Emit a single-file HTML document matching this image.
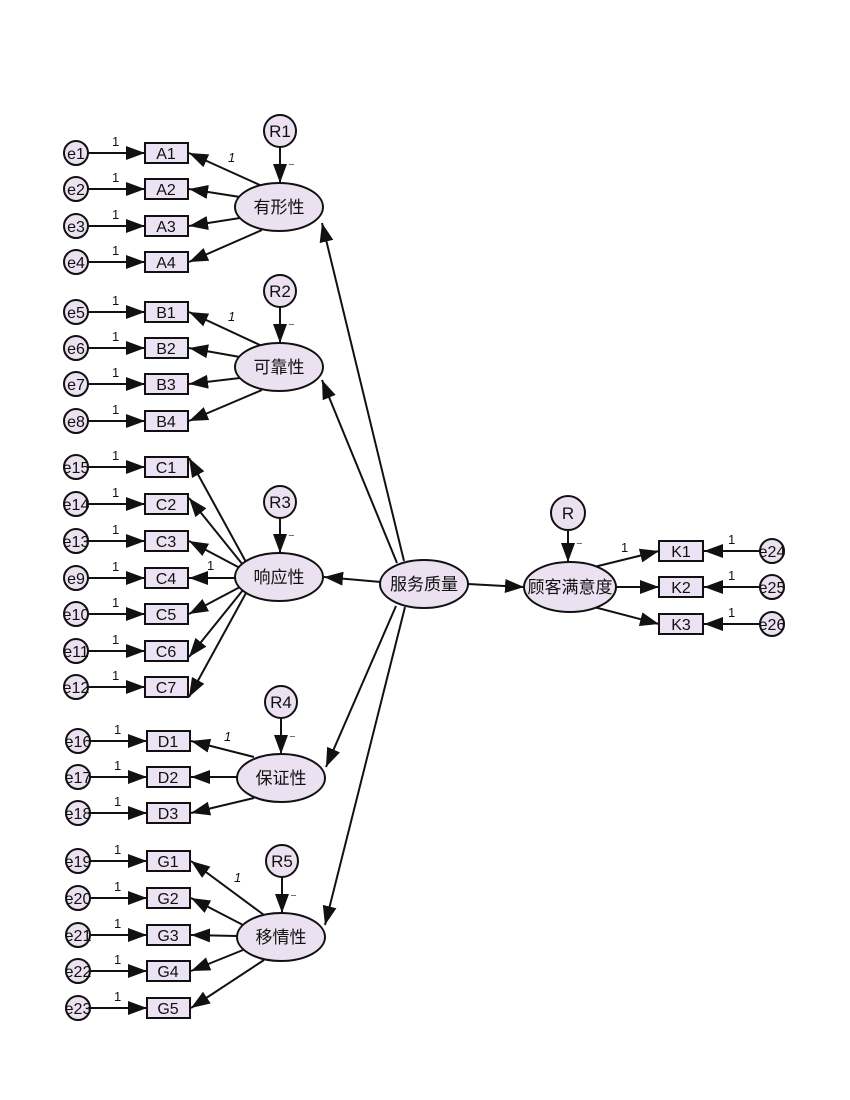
<!DOCTYPE html>
<html><head><meta charset="utf-8"><style>
html,body{margin:0;padding:0;background:#fff}
svg{display:block}
text{font-family:"Liberation Sans","Noto Sans CJK SC",sans-serif;fill:#111}
.b{fill:#ebe3f3;stroke:#111;stroke-width:2}
.e{fill:#ebe1f1;stroke:#111;stroke-width:2}
.l{stroke:#111;stroke-width:2;fill:none;marker-end:url(#a)}
.t{font-size:16px;text-anchor:middle}
.s{font-size:13px}
.c{font-size:17px;text-anchor:middle}
</style></head><body>
<svg width="850" height="1100" viewBox="0 0 850 1100" xmlns="http://www.w3.org/2000/svg">
<defs><marker id="a" markerUnits="userSpaceOnUse" markerWidth="22" markerHeight="14" refX="19" refY="7" orient="auto"><path d="M0,0 L19,7 L0,14 z" fill="#111"/></marker></defs>

<!-- A group -->
<g>
<line class="l" x1="88" y1="153" x2="145" y2="153"/><line class="l" x1="88" y1="189" x2="145" y2="189"/><line class="l" x1="88" y1="226" x2="145" y2="226"/><line class="l" x1="88" y1="262" x2="145" y2="262"/>
<line class="l" x1="262" y1="186" x2="189" y2="153"/><line class="l" x1="240" y1="197" x2="189" y2="189"/><line class="l" x1="240" y1="218" x2="189" y2="226"/><line class="l" x1="262" y1="230" x2="189" y2="262"/>
<line class="l" x1="280" y1="147" x2="280" y2="183"/>
<rect class="b" x="145" y="143" width="43" height="20"/><rect class="b" x="145" y="179" width="43" height="20"/><rect class="b" x="145" y="216" width="43" height="20"/><rect class="b" x="145" y="252" width="43" height="20"/>
<text class="t" x="166" y="159">A1</text><text class="t" x="166" y="195">A2</text><text class="t" x="166" y="232">A3</text><text class="t" x="166" y="268">A4</text>
<circle class="e" cx="76" cy="153" r="12"/><circle class="e" cx="76" cy="189" r="12"/><circle class="e" cx="76" cy="226" r="12"/><circle class="e" cx="76" cy="262" r="12"/>
<text class="t" x="76" y="159">e1</text><text class="t" x="76" y="195">e2</text><text class="t" x="76" y="232">e3</text><text class="t" x="76" y="268">e4</text>
<text class="s" x="112" y="146">1</text><text class="s" x="112" y="182">1</text><text class="s" x="112" y="219">1</text><text class="s" x="112" y="255">1</text>
<text class="s" x="228" y="162" font-style="italic">1</text><text class="s" x="288" y="171">⁻</text>
<ellipse class="e" cx="279" cy="207" rx="44" ry="24"/><text class="c" x="279" y="213">有形性</text>
<circle class="e" cx="280" cy="131" r="16"/><text class="c" x="280" y="137">R1</text>
</g>

<!-- B group -->
<g>
<line class="l" x1="88" y1="312" x2="145" y2="312"/><line class="l" x1="88" y1="348" x2="145" y2="348"/><line class="l" x1="88" y1="384" x2="145" y2="384"/><line class="l" x1="88" y1="421" x2="145" y2="421"/>
<line class="l" x1="262" y1="346" x2="189" y2="312"/><line class="l" x1="240" y1="357" x2="189" y2="348"/><line class="l" x1="240" y1="378" x2="189" y2="384"/><line class="l" x1="262" y1="390" x2="189" y2="421"/>
<line class="l" x1="280" y1="307" x2="280" y2="343"/>
<rect class="b" x="145" y="302" width="43" height="20"/><rect class="b" x="145" y="338" width="43" height="20"/><rect class="b" x="145" y="374" width="43" height="20"/><rect class="b" x="145" y="411" width="43" height="20"/>
<text class="t" x="166" y="318">B1</text><text class="t" x="166" y="354">B2</text><text class="t" x="166" y="390">B3</text><text class="t" x="166" y="427">B4</text>
<circle class="e" cx="76" cy="312" r="12"/><circle class="e" cx="76" cy="348" r="12"/><circle class="e" cx="76" cy="384" r="12"/><circle class="e" cx="76" cy="421" r="12"/>
<text class="t" x="76" y="318">e5</text><text class="t" x="76" y="354">e6</text><text class="t" x="76" y="390">e7</text><text class="t" x="76" y="427">e8</text>
<text class="s" x="112" y="305">1</text><text class="s" x="112" y="341">1</text><text class="s" x="112" y="377">1</text><text class="s" x="112" y="414">1</text>
<text class="s" x="228" y="321" font-style="italic">1</text><text class="s" x="288" y="331">⁻</text>
<ellipse class="e" cx="279" cy="367" rx="44" ry="24"/><text class="c" x="279" y="373">可靠性</text>
<circle class="e" cx="280" cy="291" r="16"/><text class="c" x="280" y="297">R2</text>
</g>

<!-- C group -->
<g>
<line class="l" x1="88" y1="467" x2="145" y2="467"/><line class="l" x1="88" y1="504" x2="145" y2="504"/><line class="l" x1="88" y1="541" x2="145" y2="541"/><line class="l" x1="88" y1="578" x2="145" y2="578"/><line class="l" x1="88" y1="614" x2="145" y2="614"/><line class="l" x1="88" y1="651" x2="145" y2="651"/><line class="l" x1="88" y1="687" x2="145" y2="687"/>
<line class="l" x1="246" y1="562" x2="189" y2="458"/><line class="l" x1="243" y1="565" x2="189" y2="498"/><line class="l" x1="240" y1="568" x2="189" y2="541"/><line class="l" x1="236" y1="578" x2="189" y2="578"/><line class="l" x1="240" y1="587" x2="189" y2="614"/><line class="l" x1="243" y1="590" x2="189" y2="657"/><line class="l" x1="246" y1="593" x2="189" y2="697"/>
<line class="l" x1="280" y1="518" x2="280" y2="553"/>
<rect class="b" x="145" y="457" width="43" height="20"/><rect class="b" x="145" y="494" width="43" height="20"/><rect class="b" x="145" y="531" width="43" height="20"/><rect class="b" x="145" y="568" width="43" height="20"/><rect class="b" x="145" y="604" width="43" height="20"/><rect class="b" x="145" y="641" width="43" height="20"/><rect class="b" x="145" y="677" width="43" height="20"/>
<text class="t" x="166" y="473">C1</text><text class="t" x="166" y="510">C2</text><text class="t" x="166" y="547">C3</text><text class="t" x="166" y="584">C4</text><text class="t" x="166" y="620">C5</text><text class="t" x="166" y="657">C6</text><text class="t" x="166" y="693">C7</text>
<circle class="e" cx="76" cy="467" r="12"/><circle class="e" cx="76" cy="504" r="12"/><circle class="e" cx="76" cy="541" r="12"/><circle class="e" cx="76" cy="578" r="12"/><circle class="e" cx="76" cy="614" r="12"/><circle class="e" cx="76" cy="651" r="12"/><circle class="e" cx="76" cy="687" r="12"/>
<text class="t" x="76" y="473">e15</text><text class="t" x="76" y="510">e14</text><text class="t" x="76" y="547">e13</text><text class="t" x="76" y="584">e9</text><text class="t" x="76" y="620">e10</text><text class="t" x="76" y="657">e11</text><text class="t" x="76" y="693">e12</text>
<text class="s" x="112" y="460">1</text><text class="s" x="112" y="497">1</text><text class="s" x="112" y="534">1</text><text class="s" x="112" y="571">1</text><text class="s" x="112" y="607">1</text><text class="s" x="112" y="644">1</text><text class="s" x="112" y="680">1</text>
<text class="s" x="207" y="570">1</text><text class="s" x="288" y="542">⁻</text>
<ellipse class="e" cx="279" cy="577" rx="44" ry="24"/><text class="c" x="279" y="583">响应性</text>
<circle class="e" cx="280" cy="502" r="16"/><text class="c" x="280" y="508">R3</text>
</g>

<!-- D group -->
<g>
<line class="l" x1="88" y1="741" x2="147" y2="741"/><line class="l" x1="88" y1="777" x2="147" y2="777"/><line class="l" x1="88" y1="813" x2="147" y2="813"/>
<line class="l" x1="254" y1="757" x2="191" y2="741"/><line class="l" x1="237" y1="777" x2="191" y2="777"/><line class="l" x1="254" y1="798" x2="191" y2="813"/>
<line class="l" x1="281" y1="718" x2="281" y2="754"/>
<rect class="b" x="147" y="731" width="43" height="20"/><rect class="b" x="147" y="767" width="43" height="20"/><rect class="b" x="147" y="803" width="43" height="20"/>
<text class="t" x="168" y="747">D1</text><text class="t" x="168" y="783">D2</text><text class="t" x="168" y="819">D3</text>
<circle class="e" cx="78" cy="741" r="12"/><circle class="e" cx="78" cy="777" r="12"/><circle class="e" cx="78" cy="813" r="12"/>
<text class="t" x="78" y="747">e16</text><text class="t" x="78" y="783">e17</text><text class="t" x="78" y="819">e18</text>
<text class="s" x="114" y="734">1</text><text class="s" x="114" y="770">1</text><text class="s" x="114" y="806">1</text>
<text class="s" x="224" y="741" font-style="italic">1</text><text class="s" x="289" y="743">⁻</text>
<ellipse class="e" cx="281" cy="778" rx="44" ry="24"/><text class="c" x="281" y="784">保证性</text>
<circle class="e" cx="281" cy="702" r="16"/><text class="c" x="281" y="708">R4</text>
</g>

<!-- G group -->
<g>
<line class="l" x1="88" y1="861" x2="147" y2="861"/><line class="l" x1="88" y1="898" x2="147" y2="898"/><line class="l" x1="88" y1="935" x2="147" y2="935"/><line class="l" x1="88" y1="971" x2="147" y2="971"/><line class="l" x1="88" y1="1008" x2="147" y2="1008"/>
<line class="l" x1="264" y1="915" x2="191" y2="861"/><line class="l" x1="243" y1="925" x2="191" y2="898"/><line class="l" x1="237" y1="936" x2="191" y2="935"/><line class="l" x1="243" y1="950" x2="191" y2="971"/><line class="l" x1="264" y1="960" x2="191" y2="1008"/>
<line class="l" x1="282" y1="877" x2="282" y2="913"/>
<rect class="b" x="147" y="851" width="43" height="20"/><rect class="b" x="147" y="888" width="43" height="20"/><rect class="b" x="147" y="925" width="43" height="20"/><rect class="b" x="147" y="961" width="43" height="20"/><rect class="b" x="147" y="998" width="43" height="20"/>
<text class="t" x="168" y="867">G1</text><text class="t" x="168" y="904">G2</text><text class="t" x="168" y="941">G3</text><text class="t" x="168" y="977">G4</text><text class="t" x="168" y="1014">G5</text>
<circle class="e" cx="78" cy="861" r="12"/><circle class="e" cx="78" cy="898" r="12"/><circle class="e" cx="78" cy="935" r="12"/><circle class="e" cx="78" cy="971" r="12"/><circle class="e" cx="78" cy="1008" r="12"/>
<text class="t" x="78" y="867">e19</text><text class="t" x="78" y="904">e20</text><text class="t" x="78" y="941">e21</text><text class="t" x="78" y="977">e22</text><text class="t" x="78" y="1014">e23</text>
<text class="s" x="114" y="854">1</text><text class="s" x="114" y="891">1</text><text class="s" x="114" y="928">1</text><text class="s" x="114" y="964">1</text><text class="s" x="114" y="1001">1</text>
<text class="s" x="234" y="882" font-style="italic">1</text><text class="s" x="290" y="902">⁻</text>
<ellipse class="e" cx="281" cy="937" rx="44" ry="24"/><text class="c" x="281" y="943">移情性</text>
<circle class="e" cx="282" cy="861" r="16"/><text class="c" x="282" y="867">R5</text>
</g>

<!-- central -->
<line class="l" x1="404" y1="561" x2="322" y2="223"/>
<line class="l" x1="397" y1="563" x2="322" y2="380"/>
<line class="l" x1="381" y1="582" x2="324" y2="577"/>
<line class="l" x1="396" y1="606" x2="326" y2="767"/>
<line class="l" x1="405" y1="607" x2="325" y2="925"/>
<line class="l" x1="468" y1="584" x2="524" y2="587"/>
<line class="l" x1="568" y1="529" x2="568" y2="562"/>
<line class="l" x1="594" y1="567" x2="659" y2="551"/>
<line class="l" x1="615" y1="587" x2="659" y2="587"/>
<line class="l" x1="594" y1="607" x2="659" y2="624"/>
<line class="l" x1="760" y1="551" x2="704" y2="551"/>
<line class="l" x1="760" y1="587" x2="704" y2="587"/>
<line class="l" x1="760" y1="624" x2="704" y2="624"/>
<ellipse class="e" cx="424" cy="584" rx="44" ry="24"/><text class="c" x="424" y="590">服务质量</text>
<ellipse class="e" cx="570" cy="587" rx="46" ry="25"/><text class="c" x="570" y="593">顾客满意度</text>
<circle class="e" cx="568" cy="513" r="17"/><text class="c" x="568" y="519">R</text>
<text class="s" x="576" y="550">⁻</text><text class="s" x="621" y="552">1</text>
<rect class="b" x="659" y="541" width="44" height="20"/><rect class="b" x="659" y="577" width="44" height="20"/><rect class="b" x="659" y="614" width="44" height="20"/>
<text class="t" x="681" y="557">K1</text><text class="t" x="681" y="593">K2</text><text class="t" x="681" y="630">K3</text>
<circle class="e" cx="772" cy="551" r="12"/><circle class="e" cx="772" cy="587" r="12"/><circle class="e" cx="772" cy="624" r="12"/>
<text class="t" x="772" y="557">e24</text><text class="t" x="772" y="593">e25</text><text class="t" x="772" y="630">e26</text>
<text class="s" x="728" y="544">1</text><text class="s" x="728" y="580">1</text><text class="s" x="728" y="617">1</text>
</svg>
</body></html>
